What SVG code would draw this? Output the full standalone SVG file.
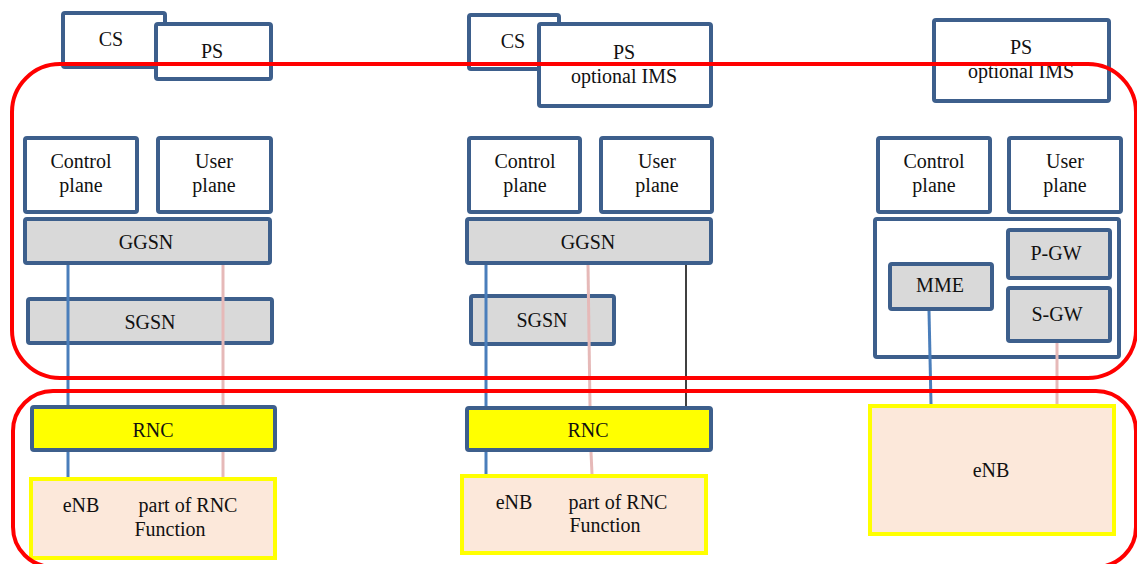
<svg xmlns="http://www.w3.org/2000/svg" width="1137" height="564" viewBox="0 0 1137 564" font-family="Liberation Serif, DejaVu Serif, serif">
<style>
text{font-family:"Liberation Serif","DejaVu Serif",serif;font-size:20px;fill:#111;text-anchor:middle}
.b{fill:#fff;stroke:#3d5f8c;stroke-width:4}
.g{fill:#d9d9d9;stroke:#3d5f8c;stroke-width:4}
.y{fill:#ffff00;stroke:#3d5f8c;stroke-width:4}
.e{fill:#fce8da;stroke:#ffff00;stroke-width:4}
.red{fill:none;stroke:#ff0000;stroke-width:4}
.cb{stroke:#4a7ebb;stroke-width:3}
.cp{stroke:#e6b9b8;stroke-width:3}
.ck{stroke:#000;stroke-width:1.5}
</style>
<!-- Left column -->
<g id="cs1"><rect class="b" x="63" y="13" width="102" height="54" rx="2"/><text x="111" y="46">CS</text></g>
<g id="ps1"><rect class="b" x="156" y="24" width="115" height="55" rx="2"/><text x="212" y="58">PS</text></g>
<g id="cp1"><rect class="b" x="25" y="138" width="112" height="74" rx="2"/><text x="81" y="168">Control</text><text x="81" y="192">plane</text></g>
<g id="up1"><rect class="b" x="158" y="138" width="113" height="74" rx="2"/><text x="214" y="168">User</text><text x="214" y="192">plane</text></g>
<g id="ggsn1"><rect class="g" x="25" y="219" width="245" height="44" rx="2"/><text x="146" y="249">GGSN</text></g>
<g id="sgsn1"><rect class="g" x="28" y="299" width="244" height="44" rx="2"/><text x="150" y="329">SGSN</text></g>
<g id="rnc1"><rect class="y" x="32" y="407" width="243" height="43" rx="2"/><text x="153" y="437">RNC</text></g>
<g id="enb1"><rect class="e" x="31" y="479" width="244" height="79"/><text x="81" y="512">eNB</text><text x="188" y="512">part of RNC</text><text x="170" y="536">Function</text></g>
<!-- Middle column -->
<g id="cs2"><rect class="b" x="469" y="15" width="90" height="54" rx="2"/><text x="513" y="48">CS</text></g>
<g id="ps2"><rect class="b" x="539" y="24" width="172" height="82" rx="2"/><text x="624" y="59">PS</text><text x="624" y="83">optional IMS</text></g>
<g id="cp2"><rect class="b" x="469" y="138" width="111" height="74" rx="2"/><text x="525" y="168">Control</text><text x="525" y="192">plane</text></g>
<g id="up2"><rect class="b" x="601" y="138" width="111" height="74" rx="2"/><text x="657" y="168">User</text><text x="657" y="192">plane</text></g>
<g id="ggsn2"><rect class="g" x="467" y="219" width="244" height="44" rx="2"/><text x="588" y="249">GGSN</text></g>
<g id="sgsn2"><rect class="g" x="471" y="296" width="143" height="48" rx="2"/><text x="542" y="327">SGSN</text></g>
<g id="rnc2"><rect class="y" x="467" y="408" width="244" height="42" rx="2"/><text x="588" y="437">RNC</text></g>
<g id="enb2"><rect class="e" x="462" y="476" width="244" height="77"/><text x="514" y="509">eNB</text><text x="618" y="509">part of RNC</text><text x="605" y="532">Function</text></g>
<!-- Right column -->
<g id="ps3"><rect class="b" x="934" y="20" width="175" height="81" rx="2"/><text x="1021" y="54">PS</text><text x="1021" y="78">optional IMS</text></g>
<g id="cp3"><rect class="b" x="878" y="138" width="112" height="74" rx="2"/><text x="934" y="168">Control</text><text x="934" y="192">plane</text></g>
<g id="up3"><rect class="b" x="1009" y="138" width="112" height="74" rx="2"/><text x="1065" y="168">User</text><text x="1065" y="192">plane</text></g>
<g id="core3"><rect class="b" x="875" y="219" width="244" height="138" rx="2"/></g>
<g id="pgw"><rect class="g" x="1008" y="230" width="102" height="48" rx="2"/><text x="1056" y="260">P-GW</text></g>
<g id="sgw"><rect class="g" x="1008" y="288" width="102" height="53" rx="2"/><text x="1057" y="321">S-GW</text></g>
<g id="mme"><rect class="g" x="890" y="264" width="102" height="45" rx="2"/><text x="940" y="292">MME</text></g>
<g id="enb3"><rect class="e" x="870" y="406" width="244" height="128"/><text x="991" y="477">eNB</text></g>
<!-- Connectors -->
<g id="connectors">
<line class="cb" x1="68" y1="265" x2="68" y2="405"/>
<line class="cb" x1="68" y1="452" x2="68" y2="477"/>
<line class="cp" x1="223" y1="265" x2="223" y2="405"/>
<line class="cp" x1="223" y1="452" x2="223" y2="477"/>
<line class="cb" x1="486" y1="265" x2="486" y2="406"/>
<line class="cb" x1="486" y1="452" x2="486" y2="474"/>
<line class="cp" x1="588" y1="265" x2="590" y2="406"/>
<line class="cp" x1="591" y1="452" x2="592" y2="474"/>
<line class="ck" x1="686" y1="265" x2="686" y2="406"/>
<line class="cb" x1="929" y1="311" x2="931" y2="404"/>
<line class="cp" x1="1057" y1="343" x2="1057" y2="404"/>
</g>
<!-- Red groupings -->
<g id="regions">
<rect class="red" x="12" y="64" width="1124" height="314" rx="48"/>
<rect class="red" x="13" y="391" width="1123" height="176" rx="40"/>
</g>
</svg>
